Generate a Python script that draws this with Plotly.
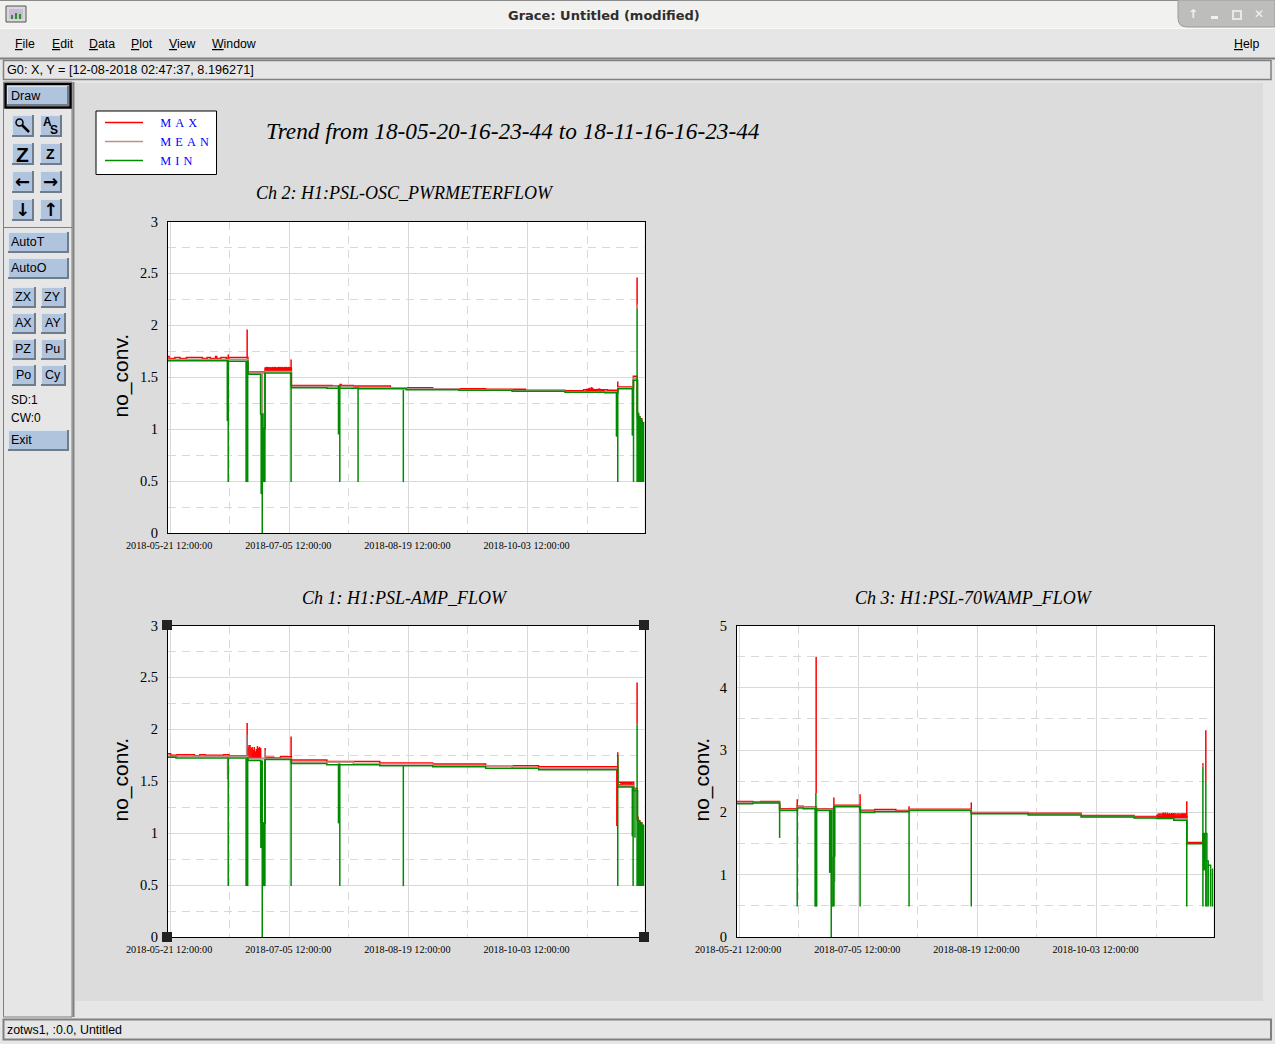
import plotly.graph_objects as go
import pandas as pd

# time axis: days counted from the start of the trend
trend_start = pd.Timestamp('2018-05-20 16:23:44')
trend_end = pd.Timestamp('2018-11-16 16:23:44')
tick_start = '2018-05-21 12:00:00'
major_days = 45
minor_days = 22.5

series_names = ['M\u2004A\u2004X', 'M\u2004E\u2004A\u2004N', 'M\u2004I\u2004N']
series_colors = ['#ff0000', '#bc8f8f', '#008b00']

# Ch 2: H1:PSL-OSC_PWRMETERFLOW
ch2_max_days = [0, 0.4, 2.6, 4.5, 7, 13, 14.8, 16, 18, 18.4, 20, 22, 23, 30.2, 36.7, 46.6, 50, 62, 65, 65.4, 70, 84, 100, 120, 135, 150, 157, 166, 169.9, 175.8, 177.2, 177.6, 178.2, 179]
ch2_max_vals = [1.70, 1.68, 1.69, 1.68, 1.69, 1.68, 1.69, 1.68, 1.70, 1.68, 1.69, 1.68, 1.69, 1.55, 1.59, 1.42, 1.42, 1.415, 1.43, 1.42, 1.415, 1.40, 1.39, 1.385, 1.375, 1.37, 1.38, 1.375, 1.405, 1.51, 1.15, 1.12, 1.10, 1.08]
ch2_max_stroke_days = [22.75, 29.9, 46.5, 169.9, 177.2]
ch2_max_stroke_lows = [1.68, 1.68, 1.55, 1.36, 2.16]
ch2_max_stroke_tops = [1.72, 1.96, 1.67, 1.46, 2.46]
ch2_band_days = [36.8, 37.2, 37.5, 37.9, 38.3, 38.7, 39.1, 39.4, 39.8, 40.2, 40.6, 41.0, 41.3, 41.7, 42.1, 42.5, 42.9, 43.2, 43.6, 44.0, 44.4, 44.8, 45.1, 45.5, 45.9, 46.3,
                158.0, 158.4, 158.8, 159.2, 159.6, 160.0, 160.4, 160.8, 161.2, 161.6, 162.0, 162.4, 162.8, 163.2, 163.6, 164.0, 164.4, 164.8]
ch2_band_lows = [1.55] * 26 + [1.36] * 18
ch2_band_tops = [1.59, 1.60, 1.60, 1.59, 1.60, 1.59, 1.59, 1.60, 1.59, 1.60, 1.60, 1.59, 1.59, 1.60, 1.60, 1.60, 1.59, 1.60, 1.59, 1.60, 1.60, 1.60, 1.59, 1.60, 1.60, 1.59,
                 1.39, 1.39, 1.395, 1.40, 1.395, 1.405, 1.40, 1.39, 1.385, 1.38, 1.39, 1.385, 1.395, 1.39, 1.38, 1.385, 1.38, 1.375]
ch2_mean_days = [0, 30.2, 36.7, 46.6, 70, 90, 110, 130, 150, 169.9, 175.8, 177.2]
ch2_mean_vals = [1.672, 1.54, 1.555, 1.41, 1.40, 1.39, 1.38, 1.37, 1.36, 1.398, 1.49, 1.10]
ch2_mean_stroke_days = [35.7, 177.25]
ch2_mean_stroke_lows = [1.15, 2.16]
ch2_mean_stroke_tops = [1.54, 2.20]
ch2_min_days = [0, 22.7, 30.2, 35.0, 35.9, 36.7, 46.6, 60, 72, 90, 110, 130, 150, 165, 169.9, 175.8, 177.4, 177.8, 178.2, 178.6, 179]
ch2_min_vals = [1.66, 1.655, 1.53, 1.145, 1.01, 1.54, 1.40, 1.395, 1.39, 1.38, 1.375, 1.365, 1.355, 1.35, 1.39, 1.47, 1.15, 1.12, 1.10, 1.08, 1.07]
ch2_min_stroke_days = [22.4, 22.6, 22.75, 29.5, 29.8, 30.1, 35.0, 35.2, 35.4, 35.6, 35.9, 36.15, 36.4, 36.6, 46.5, 64.4, 64.7, 64.9, 71.8, 88.9, 169.4, 169.6, 169.9, 175.4, 175.7, 175.85,
                       177.2, 177.5, 177.7, 177.9, 178.1, 178.3, 178.45, 178.6, 178.8, 179.0, 179.2, 179.4, 179.55, 179.7]
ch2_min_stroke_lows = [1.08, 1.08, 0.49, 0.49, 0.49, 0.49, 1.145, 0.375, 0.375, 0, 0.49, 0.49, 0.49, 0.49, 0.49, 0.95, 0.95, 0.49, 0.49, 0.49, 0.93, 0.93, 0.49, 0.94, 0.94, 0.49,
                       0.49, 0.49, 0.49, 0.49, 0.49, 0.49, 0.49, 0.49, 0.49, 0.49, 0.49, 0.49, 0.49, 0.49]
ch2_min_stroke_tops = [1.66, 1.66, 1.66, 1.65, 1.65, 1.65, 1.53, 1.145, 1.145, 1.145, 1.01, 1.01, 1.01, 1.54, 1.54, 1.42, 1.42, 1.42, 1.40, 1.38, 1.35, 1.35, 1.39, 1.39, 1.39, 1.47,
                       2.16, 1.15, 1.14, 1.13, 1.12, 1.11, 1.10, 1.10, 1.09, 1.08, 1.08, 1.07, 1.07, 1.07]

# Ch 1: H1:PSL-AMP_FLOW
ch1_max_days = [0, 1.0, 3.4, 10, 12, 14, 21, 23, 30.2, 35.2, 36.8, 40, 42.5, 46.6, 60, 80, 100, 120, 140, 160, 169.9, 175.9, 177.2, 177.6, 178.2, 179]
ch1_max_vals = [1.765, 1.75, 1.755, 1.745, 1.755, 1.75, 1.755, 1.745, 1.72, 1.72, 1.73, 1.725, 1.735, 1.705, 1.69, 1.675, 1.665, 1.65, 1.64, 1.64, 1.49, 1.43, 1.15, 1.12, 1.10, 1.09]
ch1_max_stroke_days = [29.9, 36.7, 46.5, 169.55, 169.9, 177.2]
ch1_max_stroke_lows = [1.75, 1.73, 1.73, 1.07, 1.62, 2.05]
ch1_max_stroke_tops = [2.06, 1.82, 1.93, 1.62, 1.78, 2.45]
ch1_band_days = [30.2, 30.6, 31.0, 31.4, 31.8, 32.2, 32.6, 33.0, 33.4, 33.8, 34.2, 34.6, 35.0,
                 170.2, 170.6, 171.0, 171.4, 171.8, 172.2, 172.6, 173.0, 173.4, 173.8, 174.2, 174.6, 175.0, 175.4]
ch1_band_lows = [1.72] * 13 + [1.45] * 14
ch1_band_tops = [1.83, 1.85, 1.85, 1.82, 1.83, 1.80, 1.83, 1.79, 1.81, 1.84, 1.82, 1.83, 1.82,
                 1.47, 1.47, 1.48, 1.48, 1.49, 1.49, 1.49, 1.49, 1.49, 1.49, 1.49, 1.49, 1.49, 1.48]
ch1_mean_days = [0, 30.2, 36.7, 46.6, 70, 100, 130, 169.9, 175.9, 177.2]
ch1_mean_vals = [1.74, 1.72, 1.72, 1.685, 1.665, 1.65, 1.625, 1.46, 1.42, 1.12]
ch1_mean_stroke_days = [22.5, 29.7, 36.6]
ch1_mean_stroke_lows = [1.52, 1.75, 1.12]
ch1_mean_stroke_tops = [1.74, 1.95, 1.80]
ch1_min_days = [0, 3, 30.2, 35.0, 35.9, 36.7, 46.6, 60, 80, 100, 120, 140, 169.9, 175.9, 177.4, 177.8, 178.2, 178.6, 179]
ch1_min_vals = [1.73, 1.724, 1.70, 1.10, 1.095, 1.71, 1.67, 1.66, 1.65, 1.64, 1.625, 1.61, 1.445, 1.41, 1.125, 1.115, 1.10, 1.09, 1.08]
ch1_min_stroke_days = [22.75, 29.5, 29.8, 30.1, 35.1, 35.3, 35.6, 35.9, 36.15, 36.4, 36.6, 46.5, 64.4, 64.7, 64.9, 88.9, 169.9, 175.4, 175.7, 176.4,
                       177.2, 177.5, 177.7, 177.9, 178.1, 178.3, 178.45, 178.6, 178.8, 179.0, 179.2, 179.4, 179.55, 179.7]
ch1_min_stroke_lows = [0.49, 0.49, 0.49, 0.49, 0.858, 0.858, 0, 0.49, 0.49, 0.49, 0.49, 0.49, 1.095, 1.095, 0.49, 0.49, 0.49, 0.97, 0.49, 0.955,
                       0.49, 0.49, 0.49, 0.49, 0.49, 0.49, 0.49, 0.49, 0.49, 0.49, 0.49, 0.49, 0.49, 0.49]
ch1_min_stroke_tops = [1.72, 1.72, 1.72, 1.72, 1.70, 1.70, 1.70, 1.095, 1.095, 1.095, 1.71, 1.71, 1.67, 1.67, 1.67, 1.65, 1.747, 1.445, 1.445, 1.41,
                       2.05, 1.125, 1.12, 1.12, 1.11, 1.11, 1.10, 1.10, 1.09, 1.09, 1.08, 1.08, 1.08, 1.08]

# Ch 3: H1:PSL-70WAMP_FLOW
ch3_max_days = [0, 6, 9, 16.1, 22.8, 25, 30, 36.6, 46.6, 52, 60, 65, 88.5, 110, 130, 150, 158.5, 169.9, 176]
ch3_max_vals = [2.175, 2.165, 2.175, 2.06, 2.10, 2.09, 2.06, 2.115, 2.035, 2.045, 2.03, 2.05, 2.00, 1.985, 1.95, 1.935, 1.93, 1.517, 1.66]
ch3_max_stroke_days = [22.75, 29.9, 36.6, 46.5, 65, 88.5, 169.9, 176, 177.1]
ch3_max_stroke_lows = [2.07, 2.31, 2.09, 2.03, 2.04, 1.99, 1.90, 2.73, 2.49]
ch3_max_stroke_tops = [2.21, 4.50, 2.24, 2.29, 2.10, 2.16, 2.18, 2.79, 3.32]
ch3_band_days = [158.6, 159.0, 159.4, 159.8, 160.2, 160.6, 161.0, 161.4, 161.8, 162.2, 162.6, 163.0, 163.4, 163.8, 164.2, 164.6, 165.0, 165.4, 165.8, 166.2, 166.6, 167.0, 167.4, 167.8, 168.2, 168.6, 169.0, 169.4, 169.8]
ch3_band_lows = [1.905] * 29
ch3_band_tops = [1.96, 1.98, 1.985, 1.985, 1.98, 1.99, 2.0, 1.985, 2.0, 1.98, 2.0, 1.98, 1.99, 1.98, 1.99, 1.985, 1.99, 1.985, 1.985, 1.98, 1.985, 1.985, 1.98, 1.985, 1.985, 1.985, 1.985, 1.985, 1.985]
ch3_mean_days = [0, 16.1, 22.8, 30, 36.6, 46.6, 65, 88.5, 110, 130, 150, 158.5, 169.9]
ch3_mean_vals = [2.16, 2.045, 2.085, 2.05, 2.10, 2.02, 2.04, 1.99, 1.97, 1.935, 1.92, 1.90, 1.505]
ch3_mean_stroke_days = [35.7, 36.9, 176, 176.2, 179.7]
ch3_mean_stroke_lows = [0.49, 0.886, 2.73, 1.07, 0.49]
ch3_mean_stroke_tops = [2.05, 2.08, 2.76, 1.66, 1.10]
ch3_min_days = [0, 6, 16.1, 22.8, 25, 30, 35.0, 35.85, 36.6, 46.6, 52, 65, 88.5, 110, 130, 150, 158.5, 165, 169.9, 176.2, 177.5, 178, 178.9]
ch3_min_vals = [2.14, 2.15, 2.03, 2.07, 2.06, 2.03, 2.03, 0.5, 2.09, 2.00, 2.01, 2.03, 1.98, 1.96, 1.925, 1.91, 1.905, 1.875, 1.495, 1.66, 1.22, 1.15, 1.10]
ch3_min_stroke_days = [16.1, 22.75, 29.5, 29.8, 30.1, 35.0, 35.3, 35.6, 35.85, 36.5, 36.7, 36.9, 46.5, 65, 88.5, 169.9, 176, 176.3, 176.6, 177.1, 177.5, 178, 178.9, 179.6]
ch3_min_stroke_lows = [1.59, 0.49, 0.49, 0.49, 0.49, 1.03, 1.03, 0, 0.49, 0.5, 1.29, 1.29, 0.49, 0.49, 0.49, 0.49, 0.49, 1.07, 1.07, 0.49, 0.49, 0.49, 0.49, 0.49]
ch3_min_stroke_tops = [2.14, 2.06, 2.07, 2.31, 2.07, 2.03, 2.03, 2.03, 1.29, 2.09, 2.09, 2.09, 2.09, 2.03, 1.99, 1.875, 2.73, 1.66, 1.66, 2.49, 1.22, 1.15, 1.10, 1.10]


def to_dates(days):
    return trend_start + pd.to_timedelta(days, unit='D')


def line_with_strokes(days, vals, stroke_days=(), lows=(), tops=()):
    x = list(to_dates(days))
    y = list(vals)
    stroke_x = to_dates(list(stroke_days))
    for i in range(len(stroke_x)):
        x += [None, stroke_x[i], stroke_x[i]]
        y += [None, lows[i], tops[i]]
    return x, y


W = 1275
H = 1044
PW = 476.5
PH = 311.5
grid_color = '#d9d9d9'
serif = 'Liberation Serif'
sans = 'Liberation Sans'

fig = go.Figure()

panels = [
    dict(ax='', y_top=221.5, x_left=168, ymax=3, dy=0.5,
         data=[(ch2_max_days, ch2_max_vals, ch2_max_stroke_days + ch2_band_days, ch2_max_stroke_lows + ch2_band_lows, ch2_max_stroke_tops + ch2_band_tops),
               (ch2_mean_days, ch2_mean_vals, ch2_mean_stroke_days, ch2_mean_stroke_lows, ch2_mean_stroke_tops),
               (ch2_min_days, ch2_min_vals, ch2_min_stroke_days, ch2_min_stroke_lows, ch2_min_stroke_tops)]),
    dict(ax='2', y_top=625.5, x_left=168, ymax=3, dy=0.5,
         data=[(ch1_max_days, ch1_max_vals, ch1_max_stroke_days + ch1_band_days, ch1_max_stroke_lows + ch1_band_lows, ch1_max_stroke_tops + ch1_band_tops),
               (ch1_mean_days, ch1_mean_vals, ch1_mean_stroke_days, ch1_mean_stroke_lows, ch1_mean_stroke_tops),
               (ch1_min_days, ch1_min_vals, ch1_min_stroke_days, ch1_min_stroke_lows, ch1_min_stroke_tops)]),
    dict(ax='3', y_top=625.5, x_left=737, ymax=5, dy=1,
         data=[(ch3_max_days, ch3_max_vals, ch3_max_stroke_days + ch3_band_days, ch3_max_stroke_lows + ch3_band_lows, ch3_max_stroke_tops + ch3_band_tops),
               (ch3_mean_days, ch3_mean_vals, ch3_mean_stroke_days, ch3_mean_stroke_lows, ch3_mean_stroke_tops),
               (ch3_min_days, ch3_min_vals, ch3_min_stroke_days, ch3_min_stroke_lows, ch3_min_stroke_tops)]),
]

axes = {}
for p_i, p in enumerate(panels):
    for s in range(3):
        x, y = line_with_strokes(*p['data'][s])
        fig.add_trace(go.Scatter(
            x=x, y=y, mode='lines', name='\u00a0' * 4 + series_names[s],
            line=dict(color=series_colors[s], width=1.5, shape='hv'),
            xaxis='x' + p['ax'], yaxis='y' + p['ax'],
            showlegend=p_i == 0, hoverinfo='skip'))
    axes['xaxis' + p['ax']] = dict(
        domain=[p['x_left'] / W, (p['x_left'] + PW) / W],
        anchor='y' + p['ax'], type='date',
        range=[trend_start, trend_end],
        tick0=tick_start, dtick=major_days * 86400000,
        tickformat='%Y-%m-%d %H:%M:%S', tickangle=0,
        tickfont=dict(family=serif, size=10.2, color='black'),
        ticks='', ticklabelstandoff=3, ticklabelshift=-1,
        showgrid=True, gridcolor=grid_color, gridwidth=1,
        minor=dict(tick0=tick_start, dtick=minor_days * 86400000, showgrid=True,
                   gridcolor=grid_color, griddash='8px,6px', gridwidth=1),
        showline=True, linecolor='black', linewidth=1, mirror=True, zeroline=False)
    axes['yaxis' + p['ax']] = dict(
        domain=[1 - (p['y_top'] + PH) / H, 1 - p['y_top'] / H],
        anchor='x' + p['ax'], range=[0, p['ymax']],
        tick0=0, dtick=p['dy'],
        tickfont=dict(family=serif, size=14.5, color='black'),
        ticks='', ticklabelstandoff=6,
        showgrid=True, gridcolor=grid_color, gridwidth=1,
        minor=dict(tick0=0, dtick=p['dy'] / 2, showgrid=True,
                   gridcolor=grid_color, griddash='8px,6px', gridwidth=1),
        showline=True, linecolor='black', linewidth=1, mirror=True, zeroline=False)

fig.update_layout(**axes)


# window chrome around the graph, all in window pixels
shapes = []
notes = []


def px(x):
    return x / W


def py(y):
    return 1 - y / H


def rect(x0, y0, x1, y1, fill=None, line=None, lw=1, layer='below'):
    shapes.append(dict(type='rect', xref='paper', yref='paper', layer=layer,
                       x0=px(x0), y0=py(y0), x1=px(x1), y1=py(y1),
                       fillcolor=fill if fill else 'rgba(0,0,0,0)',
                       line=dict(color=line if line else 'rgba(0,0,0,0)', width=lw if line else 0)))


def seg(x0, y0, x1, y1, color, lw=1, layer='below'):
    shapes.append(dict(type='line', xref='paper', yref='paper', layer=layer,
                       x0=px(x0), y0=py(y0), x1=px(x1), y1=py(y1),
                       line=dict(color=color, width=lw)))


def text(x, y, s, size=12, family=sans, color='black', anchor='left', angle=0):
    # annotations carry about 2px of padding, take it off left aligned labels
    if anchor == 'left':
        x -= 2
    notes.append(dict(xref='paper', yref='paper', x=px(x), y=py(y), text=s, showarrow=False,
                      xanchor=anchor, yanchor='middle', textangle=angle,
                      font=dict(family=family, size=size, color=color)))


def button(x0, y0, x1, y1):
    rect(x0, y0, x1, y1, fill='#6f7c8c')
    rect(x0, y0, x1 - 2, y1 - 2, fill='#dce4ee')
    rect(x0 + 1, y0 + 1, x1 - 2, y1 - 2, fill='#b0c4de')


# title bar
rect(0, 0, W, 28, fill='#f1f1ef')
seg(0, 0.5, W, 0.5, '#8a8a8a')
shapes.append(dict(type='path', xref='paper', yref='paper', layer='below',
                   path='M %f %f L %f %f Q %f %f %f %f L %f %f L %f %f Z' % (
                       px(1178), py(0), px(1178), py(18), px(1178), py(27), px(1187), py(27),
                       px(W), py(27), px(W), py(0)),
                   fillcolor='#bdbdbb', line=dict(color='#9c9c9a', width=1)))
text(604, 15, '<b>Grace: Untitled (modified)</b>', size=13, family='DejaVu Sans', color='#2e2e2e', anchor='center')
text(1193, 14.5, '<b>↑</b>', size=12, family='DejaVu Sans', color='#f2f2f2', anchor='center')
rect(1211, 16, 1218, 19, fill='#f2f2f2')
rect(1233, 11, 1241, 19, line='#e8e8e8', lw=2)
text(1259, 14.5, '<b>✕</b>', size=12, family='DejaVu Sans', color='#f2f2f2', anchor='center')
rect(6, 6, 26, 22, fill='#d8d8d8', line='#555555')
rect(9, 9, 23, 19, fill='#c9bcd6')
rect(11, 15, 13, 19, fill='#2f8f2f')
rect(15, 13, 17, 19, fill='#2f8f2f')
rect(19, 14, 21, 19, fill='#2f8f2f')

# menu bar and locator
seg(0, 28.5, W, 28.5, '#fafafa')
seg(0, 58.5, W, 58.5, '#808080', lw=2)
rect(3.5, 60.5, 1271, 79.5, line='#808080', lw=1.5)
for label, mx in [('<u>F</u>ile', 15), ('<u>E</u>dit', 52), ('<u>D</u>ata', 89), ('<u>P</u>lot', 131),
                  ('<u>V</u>iew', 169), ('<u>W</u>indow', 212), ('<u>H</u>elp', 1234)]:
    text(mx, 44, label, size=12.3)
text(7, 70, 'G0: X, Y = [12-08-2018 02:47:37, 8.196271]', size=12.7)

# canvas, with white behind each graph since it sits over the plot backgrounds
rect(75, 83, 1263, 1001, fill='#dcdcdc')
for p in panels:
    rect(p['x_left'], p['y_top'], p['x_left'] + PW, p['y_top'] + PH, fill='white')

# tool panel
rect(3.5, 82, 72, 1017, line='#808080', lw=1)
seg(73.5, 82, 73.5, 1017, '#808080', lw=2)
rect(5.5, 84, 70.5, 107.5, line='black', lw=2.5)
button(7, 86, 69, 106)
text(11, 96, 'Draw', size=12.5)
seg(3.5, 227.5, 72, 227.5, '#808080')
for by in [115, 143, 171, 199]:
    button(12, by, 34, by + 22)
    button(40, by, 62, by + 22)
shapes.append(dict(type='circle', xref='paper', yref='paper', layer='below',
                   x0=px(16), y0=py(119), x1=px(23), y1=py(126),
                   line=dict(color='black', width=1.5), fillcolor='rgba(0,0,0,0)'))
seg(22, 125, 29, 132, 'black', lw=2.5)
text(47, 122, '<b>A</b>', size=12, anchor='center')
text(54, 130, '<b>S</b>', size=12, anchor='center')
text(22.5, 154, '<b>Z</b>', size=21, anchor='center')
text(50.5, 154.5, '<b>Z</b>', size=14, anchor='center')
for glyph, ax_, ay_ in [('←', 22.5, 181.5), ('→', 50.5, 181.5), ('↓', 22.5, 209.5), ('↑', 50.5, 209.5)]:
    text(ax_, ay_, '<b>' + glyph + '</b>', size=18, family='DejaVu Sans', anchor='center')
button(8, 232, 69, 253)
text(11, 242, 'AutoT', size=12.5)
button(8, 258, 69, 279)
text(11, 268, 'AutoO', size=12.5)
for row, (a, b) in zip([287, 313, 339, 365], [('ZX', 'ZY'), ('AX', 'AY'), ('PZ', 'Pu'), ('Po', 'Cy')]):
    button(12, row, 36, row + 21)
    button(41, row, 66, row + 21)
    text(23, row + 10, a, size=12.5, anchor='center')
    text(53, row + 10, b, size=12.5, anchor='center')
text(11, 400, 'SD:1')
text(11, 418, 'CW:0')
button(8, 430, 69, 451)
text(11, 440, 'Exit', size=12.5)

# status bar
rect(3.5, 1019.5, 1271, 1039.5, line='#808080', lw=2)
text(7, 1030, 'zotws1, :0.0, Untitled', size=12.4)

# legend box, the legend itself sits on top of it
rect(96, 111, 216.5, 174.5, fill='white', line='black', lw=1)

# graph titles
text(512.5, 131, '<i>Trend from 18-05-20-16-23-44 to 18-11-16-16-23-44</i>', size=23.3, family=serif, anchor='center')
text(404.5, 193.5, '<i>Ch 2: H1:PSL-OSC_PWRMETERFLOW</i>', size=18, family=serif, anchor='center')
text(404.5, 597.5, '<i>Ch 1: H1:PSL-AMP_FLOW</i>', size=18, family=serif, anchor='center')
text(974, 597.5, '<i>Ch 3: H1:PSL-70WAMP_FLOW</i>', size=18, family=serif, anchor='center')
text(120.5, 376, 'no_conv.', size=21, anchor='center', angle=-90)
text(120.5, 780, 'no_conv.', size=21, anchor='center', angle=-90)
text(701.5, 780, 'no_conv.', size=21, anchor='center', angle=-90)

# selection handles on the active graph
for hx, hy in [(167, 625), (644, 625), (167, 937), (644, 937)]:
    rect(hx - 5, hy - 5, hx + 5, hy + 5, fill='#222222', layer='above')

fig.update_layout(
    width=W, height=H, autosize=False,
    margin=dict(l=0, r=0, t=0, b=0, pad=0, autoexpand=False),
    paper_bgcolor='#e6e6e6', plot_bgcolor='white',
    shapes=shapes, annotations=notes,
    legend=dict(x=px(100), y=py(108), xanchor='left', yanchor='top',
                bgcolor='rgba(0,0,0,0)', borderwidth=0, itemwidth=38,
                font=dict(family=serif, size=12.3, color='#0000ff'),
                tracegroupgap=0),
    showlegend=True,
)

fig.write_html('out.html', config=dict(displayModeBar=False),
               post_script="document.body.style.margin='0';document.body.style.overflow='hidden';")
